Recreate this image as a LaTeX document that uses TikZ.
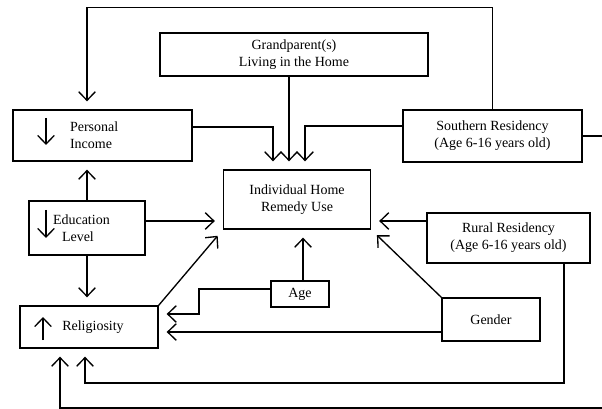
\documentclass[tikz,border=0pt]{standalone}
\usepackage{fontspec}
\setmainfont{Liberation Serif}
\usetikzlibrary{calc}
\usetikzlibrary{positioning,arrows.meta}

\begin{document}
\begin{tikzpicture}[x=0.75pt, y=-0.75pt, >={Straight Barb[length=6.5pt,width=12.5pt]}, line width=1pt, every node/.style={font=\fontsize{10.5}{12.6}\selectfont}]
  % compact block and link styles
  \tikzset{block/.style={draw, align=center, inner sep=2pt},
           link/.style={->, shorten >=6pt}}
  \useasboundingbox (0,0) rectangle (602,409);

  % nodes and layout
  \node[block, minimum width=201pt, minimum height=32.25pt] (grand) at (294,54.5) {Grandparent(s)\\Living in the Home};
  \node[block, align=left, inner xsep=42.75pt, text width=48.75pt, minimum height=38.25pt] (income) at (102.5,135.5) {Personal\\Income};
  \node[block, minimum width=134.25pt, minimum height=39pt] (south) at (492.5,136) {Southern Residency\\(Age 6-16 years old)};
  \node[block, minimum width=110.25pt, minimum height=44.25pt] (remedy) at (297,199.5) {Individual Home\\Remedy Use};
  \node[block, align=left, inner xsep=18pt, text width=51pt, minimum height=40.5pt] (educ) at (87,228) {Education\\\hspace*{6.75pt}Level};
  \node[block, minimum width=122.25pt, minimum height=37.5pt] (rural) at (508.5,238) {Rural Residency\\(Age 6-16 years old)};
  \node[block, minimum width=43.5pt, minimum height=19.5pt] (age) at (300,294) {Age};
  \node[block, minimum width=73.5pt, minimum height=32.25pt] (gender) at (491,319.5) {Gender};
  \node[block, minimum width=103.5pt, minimum height=31.5pt] (relig) at (89,327) {\hspace*{6pt}Religiosity};

  % up and down marks inside the boxes
  \draw[->] ($(income.center)+(-56.5,-17.5)$) -- ++(0,27);
  \draw[->] ($(educ.center)+(-41,-18)$) -- ++(0,28);
  \draw[->] ($(relig.center)+(-46,13)$) -- ++(0,-23);

  % arrows into the remedy box
  \draw[link] ($(income.east)+(0,-8.5)$) -| ($(remedy.north)+(-24,0)$);
  \draw[link] ($(grand.south)+(-5,0)$) coordinate (g) -- (g |- remedy.north);
  \draw[link] ($(south.west)+(0,-10)$) -| ($(remedy.north)+(8,0)$);
  \draw[link] ($(educ.east)+(0,-7)$) coordinate (e) -- (e -| remedy.west);
  \draw[link] (relig.north east) -- (remedy.south west);
  \draw[link] ($(age.north)+(3,0)$) coordinate (a) -- (a |- remedy.south);
  \draw[link] (gender.north west) -- (remedy.south east);
  \draw[link] ($(rural.west)+(0,-17)$) coordinate (r) -- (r -| remedy.east);

  % arrows between the other boxes
  \coordinate (looptop) at (87,7.5);
  \draw[link] (south.north) |- (looptop) -- (looptop |- income.north);
  \draw[link] (educ.north) -- (income.south -| educ.north);
  \draw[link] (educ.south) -- (educ.south |- relig.north);
  \coordinate (agebend) at (199,314);
  \draw[link] ($(age.west)+(0,-5)$) -| (agebend) -- (agebend -| relig.east);
  \draw[link] ($(gender.west)+(0,12.5)$) coordinate (gd) -- (gd -| relig.east);
  \coordinate (ruralturn) at (85,383);
  \draw[link] ($(rural.south)+(55.5,0)$) |- (ruralturn) -- (ruralturn |- relig.south);
  \coordinate (loopright) at (605,408);
  \coordinate (loopleft) at (60,408);
  \draw[link] (south.east) -| (loopright) -- (loopleft) -- (loopleft |- relig.south);
\end{tikzpicture}
\end{document}
